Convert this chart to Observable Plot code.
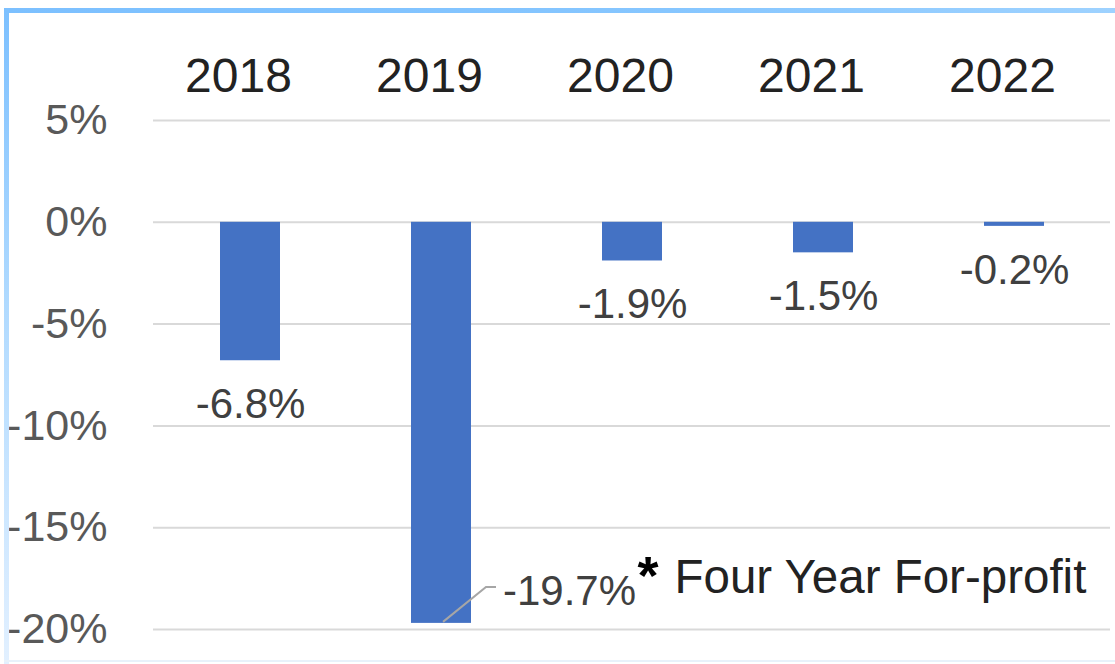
<!DOCTYPE html>
<html><head><meta charset="utf-8">
<script src="https://cdn.jsdelivr.net/npm/d3@7"></script>
<script src="https://cdn.jsdelivr.net/npm/@observablehq/plot@0.6"></script>
<style>
body{margin:0;background:#fff;}
#wrap{position:relative;width:1115px;height:664px;overflow:hidden;background:#fff;}
#chart{position:absolute;left:0;top:0;}
.bt{position:absolute;left:4px;top:8px;width:1111px;height:5px;background:linear-gradient(to right,#7cc0ff,#86c6ff 60%,#9ed2ff);}
.bl{position:absolute;left:4px;top:8px;width:5px;height:656px;background:linear-gradient(to bottom,#7cc0ff,#b0daff 45%,#e2f0ff);}
.bb{position:absolute;left:4px;top:660px;width:1111px;height:2px;background:#e8f1fa;}
</style></head>
<body>
<div id="wrap"><div id="chart"></div><div class="bt"></div><div class="bl"></div><div class="bb"></div></div>
<script>
const years = ["2018", "2019", "2020", "2021", "2022"];
const values = [-6.8, -19.7, -1.9, -1.5, -0.2];
const valueLabels = ["-6.8%", "-19.7%", "-1.9%", "-1.5%", "-0.2%"];
const yTicks = [5, 0, -5, -10, -15, -20];
const noteText = "Four Year For-profit";
const noteMark = "*";
const calloutYear = "2019";

const data = years.map((year, i) => ({year, value: values[i], label: valueLabels[i]}));
const normal = data.filter(d => d.year !== calloutYear);
const callout = data.filter(d => d.year === calloutYear);

const FONT = "'Liberation Sans', Arial, Helvetica, sans-serif";

const chart = Plot.plot({
  width: 1115,
  height: 664,
  marginLeft: 153,
  marginRight: 5,
  marginTop: 120,
  marginBottom: 35,
  style: {fontFamily: FONT, background: "transparent", overflow: "visible"},
  x: {domain: years, paddingInner: 0.687, paddingOuter: 0.3435, axis: null},
  y: {domain: [-20, 5], axis: null},
  marks: [
    Plot.ruleY(yTicks, {stroke: "#d9d9d9", strokeWidth: 2}),
    Plot.barY(data, {x: "year", y: "value", fill: "#4472C4"}),
    Plot.text(yTicks, {y: d => d, text: d => d + "%", frameAnchor: "left", textAnchor: "end", lineAnchor: "middle", dx: -46, fontSize: 43, fill: "#595959"}),
    Plot.text(years, {x: d => d, text: d => d, frameAnchor: "top", lineAnchor: "middle", dy: -43.4, dx: -12, fontSize: 48, fill: "#222222"}),
    Plot.text(normal, {x: "year", y: "value", text: "label", dy: 44, fontSize: 42, fill: "#404040"}),
    Plot.text(callout, {x: "year", y: "value", text: "label", dx: 128, dy: -31.6, fontSize: 42, fill: "#404040"}),
    Plot.text(callout, {x: "year", y: "value", text: () => noteMark, textAnchor: "start", dx: 196, dy: -46.6, fontSize: 54, fontWeight: "bold", fill: "#000000"}),
    Plot.text(callout, {x: "year", y: "value", text: () => noteText, textAnchor: "start", dx: 233, dy: -45.2, fontSize: 47.5, fill: "#222222"})
  ]
});
document.getElementById("chart").appendChild(chart);

// leader line from the 2019 bar end to its offset label
const xs = chart.scale("x"), ys = chart.scale("y");
const cx = xs.apply(calloutYear) + (xs.bandwidth || 0) / 2;
const cy = ys.apply(callout[0].value);
d3.select(chart).append("path")
  .attr("d", `M${cx + 2},${cy - 1}L${cx + 45},${cy - 36}H${cx + 55}`)
  .attr("fill", "none")
  .attr("stroke", "#a6a6a6")
  .attr("stroke-width", 2);
</script>
</body></html>
